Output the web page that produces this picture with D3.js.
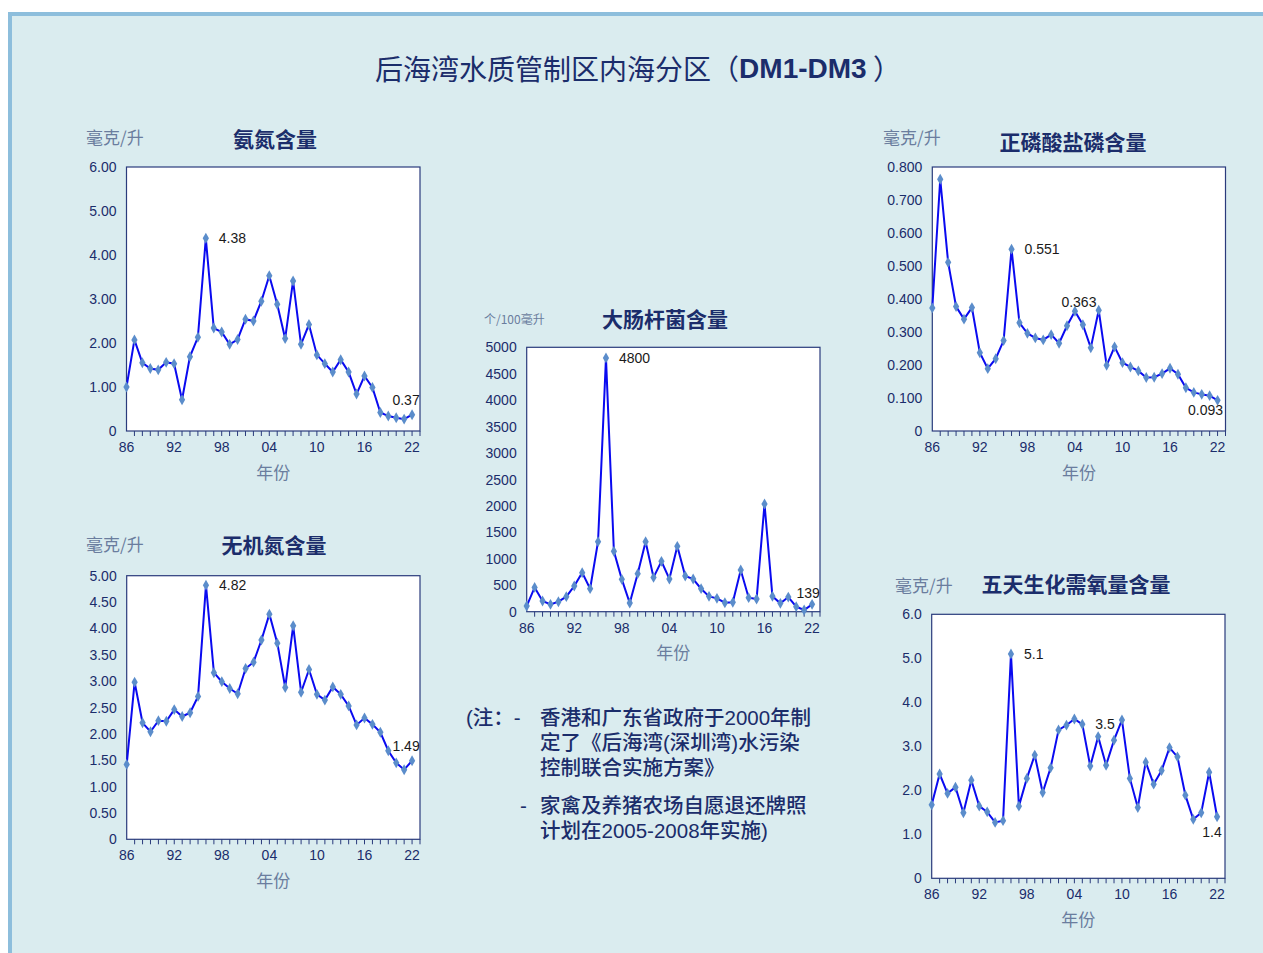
<!DOCTYPE html>
<html><head><meta charset="utf-8">
<script src="https://cdn.jsdelivr.net/npm/d3@7"></script>
<style>body{margin:0;background:#fff}svg{display:block}</style>
</head><body>
<svg id="c" width="1263" height="953"></svg>
<script>
// ---------- data ----------
const years = ["86","87","88","89","90","91","92","93","94","95","96","97","98","99","00","01","02","03","04","05","06","07","08","09","10","11","12","13","14","15","16","17","18","19","20","21","22"];
const tickYears = ["86","92","98","04","10","16","22"];

const ammonia = [1.00,2.07,1.55,1.42,1.39,1.56,1.53,0.71,1.69,2.13,4.38,2.34,2.25,1.97,2.08,2.54,2.50,2.95,3.53,2.88,2.10,3.41,1.97,2.42,1.73,1.53,1.34,1.62,1.34,0.84,1.25,0.99,0.42,0.34,0.30,0.27,0.37];
const phosphate = [0.373,0.763,0.511,0.377,0.339,0.374,0.237,0.189,0.219,0.274,0.551,0.328,0.296,0.282,0.276,0.292,0.266,0.319,0.363,0.322,0.252,0.366,0.199,0.255,0.207,0.194,0.182,0.162,0.163,0.174,0.190,0.172,0.131,0.117,0.111,0.107,0.093];
const inorganicN = [1.42,2.98,2.21,2.04,2.25,2.24,2.46,2.33,2.40,2.71,4.82,3.16,2.99,2.86,2.76,3.24,3.36,3.78,4.27,3.72,2.88,4.05,2.79,3.22,2.75,2.64,2.89,2.75,2.53,2.17,2.30,2.18,2.03,1.68,1.45,1.32,1.49];
const ecoli = [107,460,202,139,189,284,486,738,435,1324,4800,1141,612,164,719,1324,649,952,618,1236,675,618,435,290,252,170,177,788,265,240,2037,290,158,277,95,32,139];
const bod5 = [1.67,2.37,1.93,2.07,1.49,2.23,1.64,1.51,1.27,1.31,5.1,1.64,2.27,2.80,1.95,2.51,3.37,3.48,3.62,3.5,2.55,3.22,2.57,3.14,3.60,2.27,1.61,2.64,2.14,2.45,2.97,2.76,1.89,1.34,1.49,2.41,1.4];

const ammoniaTicks = [0,1,2,3,4,5,6];
const phosphateTicks = [0,0.1,0.2,0.3,0.4,0.5,0.6,0.7,0.8];
const inorganicNTicks = [0,0.5,1,1.5,2,2.5,3,3.5,4,4.5,5];
const ecoliTicks = [0,500,1000,1500,2000,2500,3000,3500,4000,4500,5000];
const bod5Ticks = [0,1,2,3,4,5,6];

// labelled points: [index, text, placement]
const ammoniaLabels = [[10,"4.38","r"],[36,"0.37","a"]];
const phosphateLabels = [[10,"0.551","r"],[18,"0.363","t"],[36,"0.093","b"]];
const inorganicNLabels = [[10,"4.82","r"],[36,"1.49","a"]];
const ecoliLabels = [[10,"4800","r"],[36,"139","a2"]];
const bod5Labels = [[10,"5.1","r"],[19,"3.5","r"],[36,"1.4","b2"]];

const mainTitle = "后海湾水质管制区内海分区";
const unitMg = "毫克/升";
const unitCfu = "个/100毫升";
const xName = "年份";
const noteLines = ["香港和广东省政府于2000年制","定了《后海湾(深圳湾)水污染","控制联合实施方案》","家禽及养猪农场自愿退还牌照","计划在2005-2008年实施)"];

// ---------- drawing ----------
const svg = d3.select("#c");
const NAVY = "#1b2d6b", UNITC = "#6a7d9e", CJK = "'Noto Sans CJK SC', sans-serif";
const LAT = "Arial, 'Liberation Sans', sans-serif";

svg.append("rect").attr("x",0).attr("y",0).attr("width",1263).attr("height",953).attr("fill","#fff");
svg.append("rect").attr("x",10).attr("y",14).attr("width",1262).attr("height",950)
  .attr("fill","#daecef").attr("stroke","#8dbedc").attr("stroke-width",4);

const t = svg.append("text").attr("x",638).attr("y",68).attr("text-anchor","middle")
  .attr("dominant-baseline","central").attr("fill",NAVY).attr("font-family",CJK).attr("font-size",28);
t.append("tspan").text(mainTitle);
t.append("tspan").text("（");
t.append("tspan").attr("font-family",LAT).attr("font-weight","bold").text("DM1-DM3");
t.append("tspan").text(" ）");

function chart(o){
  const g = svg.append("g");
  const x = d3.scaleLinear().domain([0, years.length]).range([o.left, o.right]);
  const y = d3.scaleLinear().domain([0, o.yMax]).range([o.bottom, o.top]);
  g.append("rect").attr("x",o.left).attr("y",o.top).attr("width",o.right-o.left).attr("height",o.bottom-o.top)
    .attr("fill","#fff").attr("stroke","#2a3b7c").attr("stroke-width",1.2);
  g.selectAll(".yt").data(o.ticks).join("text")
    .attr("x",o.left-10).attr("y",d=>y(d)).attr("text-anchor","end").attr("dominant-baseline","central")
    .attr("font-family",LAT).attr("font-size",14).attr("fill",NAVY)
    .text(d=> d===0 ? "0" : d3.format(o.fmt)(d));
  const tk = d3.range(1, years.length+1);
  g.selectAll(".xt").data(tk).join("line")
    .attr("x1",d=>x(d)).attr("x2",d=>x(d)).attr("y1",o.bottom).attr("y2",o.bottom+5)
    .attr("stroke","#2a3b7c").attr("stroke-width",1);
  g.selectAll(".xl").data(tickYears).join("text")
    .attr("x",d=>x(years.indexOf(d))).attr("y",o.bottom+16).attr("text-anchor","middle").attr("dominant-baseline","central")
    .attr("font-family",LAT).attr("font-size",14).attr("fill",NAVY).text(d=>d);
  const line = d3.line().x((d,i)=>x(i)).y(d=>y(d));
  g.append("path").datum(o.values).attr("d",line).attr("fill","none").attr("stroke","#0a0af0").attr("stroke-width",2);
  g.selectAll(".m").data(o.values).join("path")
    .attr("transform",(d,i)=>`translate(${x(i)},${y(d)})`)
    .attr("d",d3.symbol(d3.symbolDiamond,34)).attr("fill","#5b8dcb");
  const off = {r:[13,0,"start"], a:[-6,-15,"middle"], t:[4,-9,"middle"], b:[-12,10,"middle"], a2:[-4,-11,"middle"], b2:[-5,15,"middle"]};
  g.selectAll(".dl").data(o.labels).join("text")
    .attr("x",d=>x(d[0])+off[d[2]][0]).attr("y",d=>y(o.values[d[0]])+off[d[2]][1])
    .attr("text-anchor",d=>off[d[2]][2]).attr("dominant-baseline","central")
    .attr("font-family",LAT).attr("font-size",14).attr("fill","#1a1a1a")
    .text(d=>d[1]);
  g.append("text").attr("x",o.unitX).attr("y",o.unitY).attr("dominant-baseline","central")
    .attr("font-family",CJK).attr("font-size",o.unitSize).attr("fill",UNITC).text(o.unit);
  g.append("text").attr("x",o.titleX).attr("y",o.titleY).attr("text-anchor","middle").attr("dominant-baseline","central")
    .attr("font-family",CJK).attr("font-weight","bold").attr("font-size",21).attr("fill",NAVY).text(o.title);
  g.append("text").attr("x",(o.left+o.right)/2).attr("y",o.bottom+40).attr("text-anchor","middle").attr("dominant-baseline","central")
    .attr("font-family",CJK).attr("font-size",17).attr("fill",UNITC).text(xName);
}

chart({values:ammonia, ticks:ammoniaTicks, fmt:".2f", yMax:6, labels:ammoniaLabels,
  left:126.5, right:420, top:167, bottom:431, title:"氨氮含量", titleX:275, titleY:138,
  unit:unitMg, unitX:86, unitY:136, unitSize:17});
chart({values:phosphate, ticks:phosphateTicks, fmt:".3f", yMax:0.8, labels:phosphateLabels,
  left:932.3, right:1225.5, top:167, bottom:431, title:"正磷酸盐磷含量", titleX:1073, titleY:141,
  unit:unitMg, unitX:883, unitY:136, unitSize:17});
chart({values:inorganicN, ticks:inorganicNTicks, fmt:".2f", yMax:5, labels:inorganicNLabels,
  left:126.7, right:420, top:575.7, bottom:839.3, title:"无机氮含量", titleX:274, titleY:544,
  unit:unitMg, unitX:86, unitY:543, unitSize:17});
chart({values:ecoli, ticks:ecoliTicks, fmt:"d", yMax:5000, labels:ecoliLabels,
  left:526.7, right:820, top:347.3, bottom:611.7, title:"大肠杆菌含量", titleX:665, titleY:318,
  unit:unitCfu, unitX:484, unitY:318, unitSize:12});
chart({values:bod5, ticks:bod5Ticks, fmt:".1f", yMax:6, labels:bod5Labels,
  left:931.7, right:1225, top:614.3, bottom:878.3, title:"五天生化需氧量含量", titleX:1076, titleY:583,
  unit:unitMg, unitX:895, unitY:584, unitSize:17});

// note: separate lines; primary font with compact metrics, CJK glyphs fall back to Noto CJK
const NOTEF = "'Liberation Sans', 'Noto Sans CJK SC', sans-serif";
const note = svg.append("g").attr("font-family",NOTEF).attr("font-size",20.5).attr("font-weight",500).attr("fill",NAVY);
const ly = [717,742,767,805,830];
note.append("text").attr("x",466).attr("y",ly[0]).attr("dominant-baseline","central").text("(注：-");
note.append("text").attr("x",520).attr("y",ly[3]).attr("dominant-baseline","central").text("-");
noteLines.forEach((s,i)=>{
  note.append("text").attr("x",540).attr("y",ly[i]).attr("dominant-baseline","central").text(s);
});
</script>
</body></html>
